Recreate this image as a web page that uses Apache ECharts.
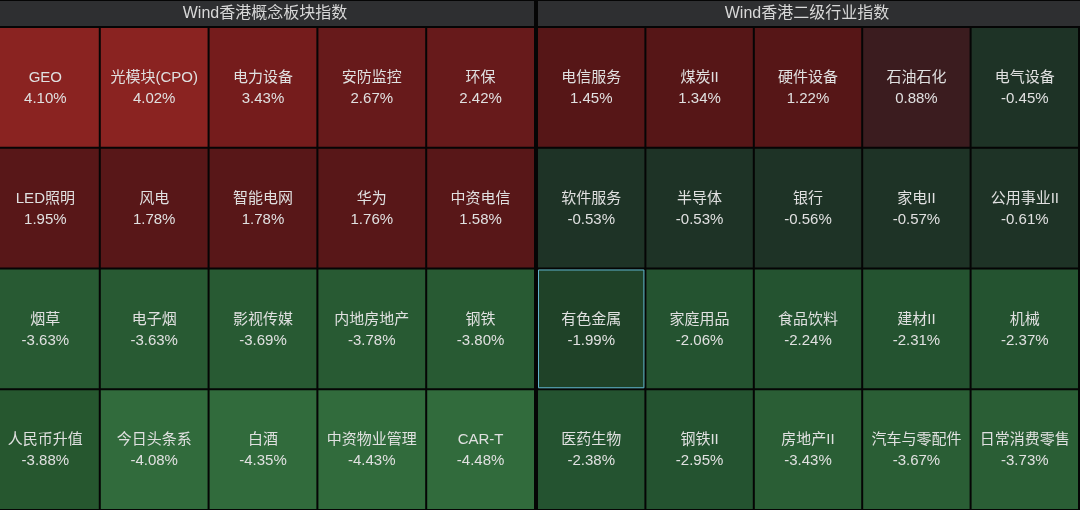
<!DOCTYPE html>
<html>
<head>
<meta charset="utf-8">
<script src="https://cdn.jsdelivr.net/npm/echarts@6/dist/echarts.min.js"></script>
<style>
html,body{margin:0;padding:0;background:#050505;}
#chart{width:1080px;height:510px;}
</style>
</head>
<body>
<div id="chart"></div>
<script>
const leftTitle = 'Wind香港概念板块指数';
const rightTitle = 'Wind香港二级行业指数';
const rows = ['r1', 'r2', 'r3', 'r4'];

const leftNames = ['GEO', '光模块(CPO)', '电力设备', '安防监控', '环保',
  'LED照明', '风电', '智能电网', '华为', '中资电信',
  '烟草', '电子烟', '影视传媒', '内地房地产', '钢铁',
  '人民币升值', '今日头条系', '白酒', '中资物业管理', 'CAR-T'];
const leftValues = [4.10, 4.02, 3.43, 2.67, 2.42,
  1.95, 1.78, 1.78, 1.76, 1.58,
  -3.63, -3.63, -3.69, -3.78, -3.80,
  -3.88, -4.08, -4.35, -4.43, -4.48];

const rightNames = ['电信服务', '煤炭II', '硬件设备', '石油石化', '电气设备',
  '软件服务', '半导体', '银行', '家电II', '公用事业II',
  '有色金属', '家庭用品', '食品饮料', '建材II', '机械',
  '医药生物', '钢铁II', '房地产II', '汽车与零配件', '日常消费零售'];
const rightValues = [1.45, 1.34, 1.22, 0.88, -0.45,
  -0.53, -0.53, -0.56, -0.57, -0.61,
  -1.99, -2.06, -2.24, -2.31, -2.37,
  -2.38, -2.95, -3.43, -3.67, -3.73];

const highlighted = ['有色金属'];

function build(names, values) {
  return names.map((n, i) => [i % 5, Math.floor(i / 5), values[i], n]);
}

const FONT = '"Helvetica Neue", Helvetica, "Liberation Sans", "Noto Sans CJK SC", sans-serif';

function renderItem(params, api) {
  const p = api.coord([api.value(0), api.value(1)]);
  const s = api.size([1, 1]);
  const x = p[0] - s[0] / 2 + 1;
  const y = p[1] - s[1] / 2 + 1;
  const w = s[0] - 2;
  const h = s[1] - 2;
  const name = api.value(3);
  const v = api.value(2);
  const children = [{
    type: 'rect',
    shape: { x: x, y: y, width: w, height: h },
    style: { fill: api.visual('color') }
  }];
  if (highlighted.indexOf(name) >= 0) {
    children.push({
      type: 'rect',
      shape: { x: x + 0.5, y: y + 0.5, width: w - 1, height: h - 1 },
      style: { fill: 'none', stroke: '#5fb2cc', lineWidth: 1 }
    });
  }
  children.push({
    type: 'text',
    style: {
      text: name + '\n' + v.toFixed(2) + '%',
      x: p[0], y: p[1] + 1,
      align: 'center', verticalAlign: 'middle',
      fill: '#e0e0e0',
      fontSize: 15, fontFamily: FONT,
      lineHeight: 21
    }
  });
  return { type: 'group', children: children };
}

const option = {
  backgroundColor: '#050505',
  animation: false,
  grid: [
    { left: 0, top: 27, width: 535, height: 483 },
    { left: 537, top: 27, width: 542, height: 483 }
  ],
  xAxis: [
    { type: 'value', gridIndex: 0, min: -0.417, max: 4.5, show: false },
    { type: 'value', gridIndex: 1, min: -0.5, max: 4.5, show: false }
  ],
  yAxis: [
    { type: 'category', data: rows, gridIndex: 0, inverse: true, show: false },
    { type: 'category', data: rows, gridIndex: 1, inverse: true, show: false }
  ],
  visualMap: [
    {
      type: 'piecewise', show: false, seriesIndex: 0, dimension: 2,
      pieces: [
        { gte: 3.9, color: '#8a2321' },
        { gte: 3.0, lt: 3.9, color: '#751c1c' },
        { gte: 2.2, lt: 3.0, color: '#671a1b' },
        { gte: 0, lt: 2.2, color: '#581718' },
        { gte: -3.85, lt: 0, color: '#285a33' },
        { gte: -4.0, lt: -3.85, color: '#26572f' },
        { lt: -4.0, color: '#316b3c' }
      ]
    },
    {
      type: 'piecewise', show: false, seriesIndex: 1, dimension: 2,
      pieces: [
        { gte: 1.0, color: '#561617' },
        { gte: 0, lt: 1.0, color: '#3b1c1f' },
        { gte: -1.0, lt: 0, color: '#1e3326' },
        { gte: -2.0, lt: -1.0, color: '#1f4228' },
        { gte: -3.0, lt: -2.0, color: '#245330' },
        { lt: -3.0, color: '#2a5e35' }
      ]
    }
  ],
  graphic: [
    { type: 'rect', shape: { x: 0, y: 1, width: 534, height: 25 }, style: { fill: '#2e2f31' } },
    { type: 'rect', shape: { x: 538, y: 1, width: 542, height: 25 }, style: { fill: '#2e2f31' } },
    { type: 'text', style: { text: leftTitle, x: 265, y: 14, align: 'center', verticalAlign: 'middle', fill: '#d8d8d8', fontSize: 16, fontFamily: FONT } },
    { type: 'text', style: { text: rightTitle, x: 807, y: 14, align: 'center', verticalAlign: 'middle', fill: '#d8d8d8', fontSize: 16, fontFamily: FONT } }
  ],
  series: [
    { type: 'custom', xAxisIndex: 0, yAxisIndex: 0, renderItem: renderItem, data: build(leftNames, leftValues), encode: { x: 0, y: 1 }, clip: true },
    { type: 'custom', xAxisIndex: 1, yAxisIndex: 1, renderItem: renderItem, data: build(rightNames, rightValues), encode: { x: 0, y: 1 }, clip: true }
  ]
};

const chart = echarts.init(document.getElementById('chart'), null, { renderer: 'canvas' });
chart.setOption(option);
</script>
</body>
</html>
